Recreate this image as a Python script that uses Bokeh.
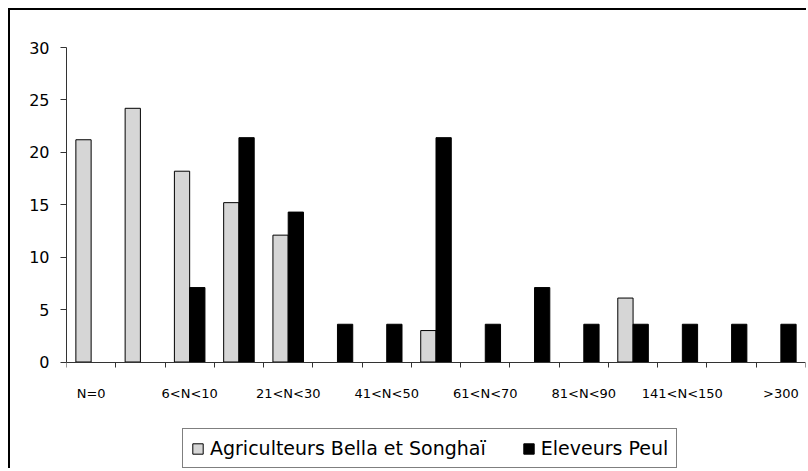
import numpy as np
from bokeh.plotting import figure
from bokeh.models import Range1d, FixedTicker, Legend, LegendItem
from bokeh.embed import file_html
from bokeh.resources import INLINE

# ---- data ----
shown_labels = ["N=0", "6<N<10", "21<N<30", "41<N<50", "61<N<70",
                "81<N<90", "141<N<150", ">300"]
agriculteurs = [21.2, 24.2, 18.2, 15.2, 12.1, 0, 0, 3.0, 0, 0, 0, 6.1, 0, 0, 0]
eleveurs = [0, 0, 7.1, 21.4, 14.3, 3.6, 3.6, 21.4, 3.6, 7.1, 3.6, 3.6, 3.6, 3.6, 3.6]
series_names = ["Agriculteurs Bella et Songhaï", "Eleveurs Peul"]
y_ticks = [0, 5, 10, 15, 20, 25, 30]

n = len(agriculteurs)
centers = np.arange(n) + 0.5
FONT = "DejaVu Sans"

# layout (canvas pixels)
W, H = 798, 460
TOP, BOTTOM_BORDER = 37, 1
ZERO_PX = 351.5
frame_bottom = H - BOTTOM_BORDER
y_max = 30
y_min = -y_max * (frame_bottom - ZERO_PX) / (ZERO_PX - TOP)

p = figure(width=W, height=H, output_backend="svg", toolbar_location=None,
           x_range=Range1d(0, n), y_range=Range1d(y_min, y_max),
           min_border_left=56, min_border_right=3, min_border_top=TOP,
           min_border_bottom=BOTTOM_BORDER)
p.styles = {"margin-left": "8px", "margin-top": "8px",
            "border-left": "2px solid black", "border-top": "2px solid black"}

a = np.array(agriculteurs, dtype=float)
e = np.array(eleveurs, dtype=float)
ma, me = a > 0, e > 0
r1 = p.vbar(x=(centers - 0.155)[ma], top=a[ma], width=0.31,
            fill_color="#d6d6d6", line_color="black", line_width=1)
r2 = p.vbar(x=(centers + 0.155)[me], top=e[me], width=0.31,
            fill_color="black", line_color="black", line_width=1)

p.xgrid.visible = False
p.ygrid.visible = False
p.outline_line_color = None
p.background_fill_color = "white"
p.border_fill_color = "white"

xa = p.xaxis[0]
xa.fixed_location = 0
label_pos = [float(c) for c in centers[::2]]
xa.ticker = FixedTicker(ticks=label_pos, minor_ticks=list(range(n + 1)))
xa.major_label_overrides = {c: lab for c, lab in zip(label_pos, shown_labels)}
xa.major_tick_out = 0
xa.major_tick_in = 0
xa.minor_tick_out = 5
xa.minor_tick_in = 0
xa.minor_tick_line_color = "#333333"
xa.axis_line_color = "#333333"
xa.major_label_standoff = 19
xa.major_label_text_font = FONT
xa.major_label_text_font_size = "13px"
xa.major_label_text_color = "black"

ya = p.yaxis[0]
ya.bounds = (0, y_max)
ya.ticker = FixedTicker(ticks=y_ticks)
ya.major_tick_out = 6
ya.major_tick_in = 0
ya.minor_tick_out = 0
ya.minor_tick_in = 0
ya.major_tick_line_color = "#333333"
ya.axis_line_color = "#333333"
ya.major_label_standoff = 11
ya.major_label_text_font = FONT
ya.major_label_text_font_size = "16px"
ya.major_label_text_color = "black"

legend = Legend(items=[LegendItem(label=series_names[0], renderers=[r1]),
                       LegendItem(label=series_names[1], renderers=[r2])],
                location=(116, 1), orientation="horizontal",
                border_line_color="black", border_line_width=1,
                background_fill_color="white", background_fill_alpha=1,
                padding=8, spacing=36, margin=0,
                glyph_width=13, glyph_height=13, label_standoff=6,
                label_text_font=FONT, label_text_font_size="19px",
                label_text_color="black")
p.add_layout(legend)

open("out.html", "w").write(file_html(p, INLINE))
